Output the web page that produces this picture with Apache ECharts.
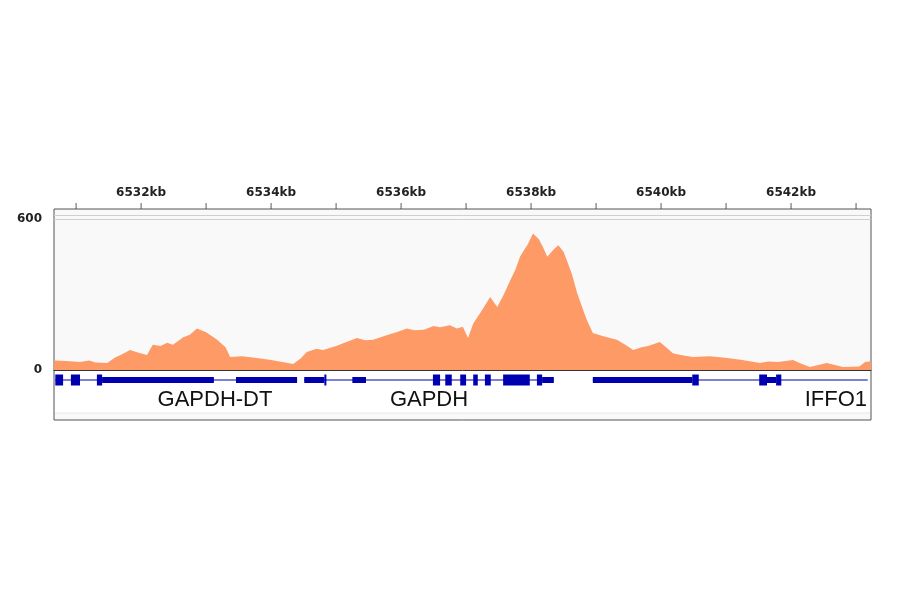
<!DOCTYPE html>
<html>
<head>
<meta charset="utf-8">
<script src="https://cdn.jsdelivr.net/npm/echarts@6/dist/echarts.min.js"></script>
<style>html,body{margin:0;background:#fff}#c{width:900px;height:594px}</style>
</head>
<body>
<div id="c"></div>
<script>
// coverage, position in kb
const positions = [6530.66, 6530.68, 6530.85, 6531.06, 6531.2, 6531.3, 6531.48, 6531.6, 6531.7, 6531.83, 6531.95, 6532.09, 6532.18, 6532.3, 6532.4, 6532.49, 6532.65, 6532.75, 6532.86, 6533.0, 6533.17, 6533.3, 6533.37, 6533.55, 6533.78, 6534.0, 6534.34, 6534.45, 6534.55, 6534.7, 6534.8, 6535.0, 6535.15, 6535.32, 6535.45, 6535.57, 6535.8, 6535.95, 6536.09, 6536.2, 6536.35, 6536.5, 6536.6, 6536.75, 6536.86, 6536.95, 6537.03, 6537.11, 6537.25, 6537.37, 6537.48, 6537.58, 6537.68, 6537.76, 6537.83, 6537.9, 6537.95, 6538.03, 6538.12, 6538.18, 6538.25, 6538.35, 6538.42, 6538.5, 6538.55, 6538.63, 6538.71, 6538.8, 6538.86, 6538.95, 6539.1, 6539.2, 6539.32, 6539.45, 6539.57, 6539.7, 6539.8, 6539.98, 6540.1, 6540.18, 6540.3, 6540.49, 6540.75, 6541.02, 6541.25, 6541.52, 6541.65, 6541.8, 6542.03, 6542.15, 6542.29, 6542.55, 6542.8, 6543.05, 6543.14, 6543.23];
const coverage = [38, 40, 36, 32, 38, 30, 28, 50, 62, 80, 70, 60, 100, 95, 108, 100, 130, 140, 165, 150, 120, 90, 52, 55, 48, 40, 24, 45, 72, 84, 80, 95, 110, 127, 118, 120, 140, 152, 165, 158, 160, 175, 170, 178, 165, 172, 127, 185, 240, 290, 250, 300, 357, 400, 450, 480, 500, 543, 520, 490, 450, 480, 496, 470, 436, 380, 305, 240, 198, 147, 135, 128, 120, 100, 80, 90, 95, 111, 85, 67, 60, 52, 55, 48, 40, 28, 34, 32, 40, 26, 12, 28, 12, 14, 32, 35];
const tickKb = [6531, 6532, 6533, 6534, 6535, 6536, 6537, 6538, 6539, 6540, 6541, 6542, 6543];
const labelKb = [6532, 6534, 6536, 6538, 6540, 6542];
// gene model: [start kb, end kb, thickness]  (1 = coding exon, 0.5 = UTR, 0 = intron line)
const geneLines = [[6530.68, 6534.40, 0], [6534.51, 6538.35, 0], [6538.95, 6543.18, 0]];
const geneBlocks = [
  [6530.68, 6530.80, 1], [6530.92, 6531.06, 1], [6531.32, 6531.40, 1],
  [6531.40, 6533.12, 0.5], [6533.46, 6534.40, 0.5], [6534.51, 6534.82, 0.5],
  [6534.82, 6534.85, 1], [6535.25, 6535.46, 0.5], [6536.49, 6536.60, 1],
  [6536.68, 6536.78, 1], [6536.91, 6537.00, 1], [6537.11, 6537.18, 1],
  [6537.29, 6537.38, 1], [6537.57, 6537.98, 1], [6538.09, 6538.17, 1],
  [6538.17, 6538.35, 0.5], [6538.95, 6540.48, 0.5], [6540.48, 6540.58, 1],
  [6541.51, 6541.63, 1], [6541.63, 6541.77, 0.5], [6541.77, 6541.85, 1]
];
const geneNames = [['GAPDH-DT', 215, 'center'], ['GAPDH', 429, 'center'], ['IFFO1', 867, 'right']];

const X_MIN = 6530.66, X_MAX = 6543.23, Y_MAX = 640;
const chart = echarts.init(document.getElementById('c'));

chart.setOption({
  animation: false,
  graphic: [
    { type: 'rect', shape: { x: 54, y: 209, width: 817, height: 211 }, style: { fill: '#f9f9f9', stroke: '#555', lineWidth: 1 }, z: -10 },
    { type: 'rect', shape: { x: 55, y: 371, width: 815, height: 42 }, style: { fill: '#ffffff' }, z: -9 },
    { type: 'line', shape: { x1: 55, y1: 413, x2: 870, y2: 413 }, style: { stroke: '#e6e6e6' }, z: -8 }
  ].concat(geneNames.map(g => ({
    type: 'text', x: g[1], y: 400,
    style: { text: g[0], fill: '#111', font: '22px "Liberation Sans", Arial, sans-serif', align: g[2], verticalAlign: 'middle' }
  }))),
  grid: [
    { left: 54, right: 29, top: 209, height: 161 },
    { left: 54, right: 29, top: 372, height: 44 }
  ],
  xAxis: [
    {
      gridIndex: 0, type: 'value', position: 'top', min: X_MIN, max: X_MAX,
      axisLine: { show: true, lineStyle: { color: '#333', width: 1 } },
      axisTick: { show: false },
      axisLabel: { customValues: labelKb, formatter: v => v + 'kb', margin: 10, color: '#222', fontWeight: 'bold', fontSize: 12, fontFamily: 'DejaVu Sans' },
      splitLine: { show: false }
    },
    { gridIndex: 1, type: 'value', min: X_MIN, max: X_MAX, show: false }
  ],
  yAxis: [
    {
      gridIndex: 0, type: 'value', min: 0, max: Y_MAX,
      axisLine: { show: false }, axisTick: { show: false }, splitLine: { show: false },
      axisLabel: { customValues: [0, 600], margin: 12, color: '#222', fontWeight: 'bold', fontSize: 12, fontFamily: 'DejaVu Sans' }
    },
    { gridIndex: 1, type: 'value', min: 0, max: 1, show: false }
  ],
  series: [
    {
      type: 'line', xAxisIndex: 0, yAxisIndex: 0,
      data: positions.map((p, i) => [p, coverage[i]]),
      symbol: 'none', lineStyle: { width: 0 },
      areaStyle: { color: '#fd9a66', opacity: 1 },
      markLine: { silent: true, symbol: 'none', label: { show: false },
        lineStyle: { color: '#cfcfcf', type: 'solid', width: 1 },
        data: [{ yAxis: 600 }, { yAxis: 616 }] }
    },
    {
      // kb ticks above the top axis line
      type: 'scatter', xAxisIndex: 0, yAxisIndex: 0, clip: false, silent: true,
      data: tickKb.map(k => [k, Y_MAX]),
      symbol: 'rect', symbolSize: [1, 6], symbolOffset: [0, -3],
      itemStyle: { color: '#333' }
    },
    {
      type: 'custom', xAxisIndex: 1, yAxisIndex: 1,
      data: geneLines.concat(geneBlocks),
      renderItem: (params, api) => {
        const a = api.coord([api.value(0), 0.5]);
        const b = api.coord([api.value(1), 0.5]);
        const t = api.value(2);
        const cy = 380;
        if (t === 0) {
          return { type: 'line', shape: { x1: a[0], y1: cy, x2: b[0], y2: cy }, style: { stroke: '#0000a8', lineWidth: 1 } };
        }
        const h = t === 1 ? 11 : 6;
        return { type: 'rect', shape: { x: a[0], y: cy - h / 2, width: Math.max(b[0] - a[0], 2), height: h }, style: { fill: '#0000b0' } };
      },
      encode: { x: [0, 1] }
    }
  ]
});
</script>
</body>
</html>
